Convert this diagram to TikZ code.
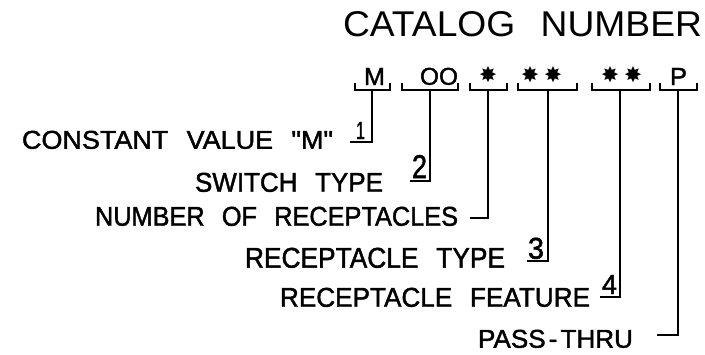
\documentclass[tikz,border=0pt]{standalone}
\usepackage{fontspec}
\setmainfont{Liberation Sans}[Ligatures=TeXOff]
\newfontfamily\heavyfont{Liberation Sans}[Ligatures=TeXOff,FakeBold=1.6]
\newfontfamily\symfont{DejaVu Sans}
\usepackage{graphicx}
\newcommand\fitbox[3]{\resizebox{#1pt}{#2pt}{#3}}
\newcommand\wsp{\hspace{0.68em}}
\begin{document}
\begin{tikzpicture}[x=1pt,y=-1pt,line width=1.9pt,line join=miter,
  txt/.style={inner sep=0pt,outer sep=0pt,anchor=south west,font=\heavyfont},
  ttl/.style={inner sep=0pt,outer sep=0pt,anchor=south west,font=\rmfamily},
  starmark/.style={inner sep=0pt,outer sep=0pt,anchor=center,font=\symfont},
  brk/.style={line width=1.9pt},
  conn/.style={line width=1.9pt}]
\useasboundingbox (0,0) rectangle (705,354);
% title
\node[ttl] (title) at (343,37) {\fitbox{359}{25}{CATALOG\wsp NUMBER}};
% catalog characters
\node[txt] (cM) at (364,85) {\fitbox{21}{17}{M}};
\node[txt] (cOO) at (420,85) {\fitbox{38}{17}{OO}};
\node[starmark] (s1) at (488,75) {\fitbox{18}{16}{✸}};
\node[starmark] (s2) at (530,75) {\fitbox{18}{16}{✸}};
\node[starmark] (s3) at (553,75) {\fitbox{18}{16}{✸}};
\node[starmark] (s4) at (610,75) {\fitbox{18}{16}{✸}};
\node[starmark] (s5) at (633,75) {\fitbox{18}{16}{✸}};
\node[txt] (cP) at (670,85) {\fitbox{17}{17}{P}};
% brackets
\draw[brk] (355,83) -- (355,90) -- (390,90) -- (390,83);
\draw[brk] (402,83) -- (402,90) -- (458,90) -- (458,83);
\draw[brk] (470,83) -- (470,90) -- (507,90) -- (507,83);
\draw[brk] (518,83) -- (518,90) -- (577,90) -- (577,83);
\draw[brk] (592,83) -- (592,90) -- (650,90) -- (650,83);
\draw[brk] (660,83) -- (660,90) -- (697,90) -- (697,83);
\coordinate (bA) at (372,90);
\coordinate (bB) at (430,90);
\coordinate (bC) at (488,90);
\coordinate (bD) at (548,90);
\coordinate (bE) at (620,90);
\coordinate (bF) at (678,90);
% labels
\node[txt] (l1) at (22,149) {\fitbox{311}{18}{CONSTANT\wsp VALUE\wsp "M"}};
\node[txt] (l2) at (195,192) {\fitbox{188}{19}{SWITCH\wsp TYPE}};
\node[txt] (l3) at (95,226) {\fitbox{363}{19}{NUMBER\wsp OF\wsp RECEPTACLES}};
\node[txt] (l4) at (245,268) {\fitbox{260}{20}{RECEPTACLE\wsp TYPE}};
\node[txt] (l5) at (280,307) {\fitbox{310}{19}{RECEPTACLE\wsp FEATURE}};
\node[txt] (l6) at (478,348) {\fitbox{155}{18}{PASS\hspace{0.12em}-\hspace{0.12em}THRU}};
% numbers
\node[txt] (n1) at (356,139) {\fitbox{9}{17}{1}};
\node[txt] (n2) at (412,178) {\fitbox{15}{23}{2}};
\node[txt] (n3) at (528,259) {\fitbox{16}{21}{3}};
\node[txt] (n4) at (602,294) {\fitbox{15}{19}{4}};
% connector ends
\coordinate (eA) at (350,142);
\coordinate (eB) at (410,181);
\coordinate (eC) at (470,218);
\coordinate (eD) at (527,261);
\coordinate (eE) at (600,297);
\coordinate (eF) at (657,335);
\draw[conn] (bA) |- (eA);
\draw[conn] (bB) |- (eB);
\draw[conn] (bC) |- (eC);
\draw[conn] (bD) |- (eD);
\draw[conn] (bE) |- (eE);
\draw[conn] (bF) |- (eF);
\end{tikzpicture}
\end{document}
